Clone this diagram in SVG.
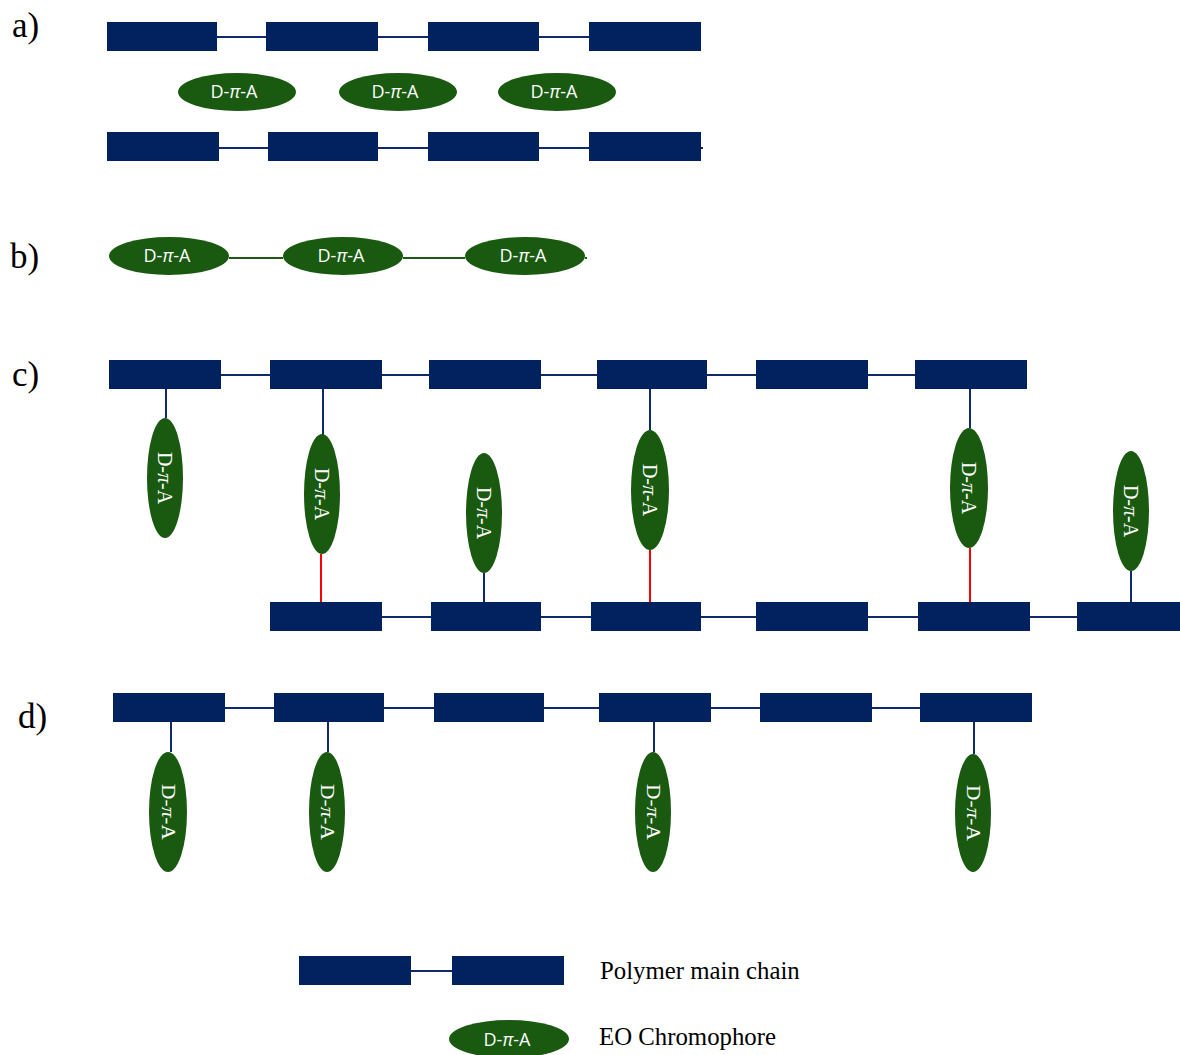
<svg xmlns="http://www.w3.org/2000/svg" width="1180" height="1055" viewBox="0 0 1180 1055">
<style>
.m{fill:#02215f}
.e{fill:#1a5a10}
.ln{stroke:#0e2a6a;stroke-width:2;fill:none}
.gl{stroke:#1a5a10;stroke-width:2;fill:none}
.rd{stroke:#ff0000;stroke-width:2;fill:none}
.lab{font-family:"Liberation Serif",serif;font-size:35px;fill:#000}
.leg{font-family:"Liberation Serif",serif;font-size:24.8px;fill:#000}
.ts{font-family:"Open Sans","DejaVu Sans",sans-serif;font-size:18px;fill:#fff;text-anchor:middle}
.tv{font-family:"Liberation Serif",serif;font-size:20px;fill:#fff;text-anchor:middle}
.tn{font-family:"Liberation Serif",serif;font-size:19px;fill:#fff;text-anchor:middle}
</style>
<rect width="1180" height="1055" fill="#fff"/>

<g id="connectors">
  <!-- a -->
  <path class="ln" d="M217 37H266M378 37H428M539 37H589"/>
  <path class="ln" d="M219 148H268M378 148H428M539 148H703"/>
  <!-- b -->
  <path class="gl" d="M229 258H283M403 258H465M585 258H587"/>
  <!-- c -->
  <path class="ln" d="M221 375H270M382 375H429M541 375H597M707 375H756M868 375H915"/>
  <path class="ln" d="M382 617H431M541 617H591M701 617H756M868 617H918M1030 617H1077"/>
  <path class="ln" d="M166 389V418M323 389V435M650 389V430M970 389V428M484 573V602M1131 571V602"/>
  <path class="rd" d="M321 554V602M650 550V602M970 548V602"/>
  <!-- d -->
  <path class="ln" d="M225 708H274M384 708H434M544 708H599M711 708H760M872 708H920"/>
  <path class="ln" d="M171 722V752M328 722V752M654 722V752M974 722V754"/>
  <!-- legend -->
  <path class="ln" d="M411 971H452"/>
</g>

<g id="labels">
  <text class="lab" x="12" y="37">a)</text>
  <text class="lab" x="10" y="268">b)</text>
  <text class="lab" x="12" y="386">c)</text>
  <text class="lab" x="18" y="728">d)</text>
</g>

<g id="a-chain-top">
  <rect class="m" x="107" y="22" width="110" height="29"/>
  <rect class="m" x="266" y="22" width="112" height="29"/>
  <rect class="m" x="428" y="22" width="111" height="29"/>
  <rect class="m" x="589" y="22" width="112" height="29"/>
</g>
<g id="a-chromophores">
  <ellipse class="e" cx="237" cy="92" rx="59" ry="19"/><text class="ts" x="234" y="98">D-<tspan font-style="italic">π</tspan>-A</text>
  <ellipse class="e" cx="398" cy="92" rx="59" ry="19"/><text class="ts" x="395" y="98">D-<tspan font-style="italic">π</tspan>-A</text>
  <ellipse class="e" cx="557" cy="92" rx="59" ry="19"/><text class="ts" x="554" y="98">D-<tspan font-style="italic">π</tspan>-A</text>
</g>
<g id="a-chain-bottom">
  <rect class="m" x="107" y="132" width="112" height="29"/>
  <rect class="m" x="268" y="132" width="110" height="29"/>
  <rect class="m" x="428" y="132" width="111" height="29"/>
  <rect class="m" x="589" y="132" width="112" height="29"/>
</g>

<g id="b-chain">
  <ellipse class="e" cx="169" cy="256" rx="60" ry="19"/><text class="ts" x="167" y="262">D-<tspan font-style="italic">π</tspan>-A</text>
  <ellipse class="e" cx="343" cy="256" rx="60" ry="19"/><text class="ts" x="341" y="262">D-<tspan font-style="italic">π</tspan>-A</text>
  <ellipse class="e" cx="525" cy="256" rx="60" ry="19"/><text class="ts" x="523" y="262">D-<tspan font-style="italic">π</tspan>-A</text>
</g>

<g id="c-chain-top">
  <rect class="m" x="109" y="360" width="112" height="29"/>
  <rect class="m" x="270" y="360" width="112" height="29"/>
  <rect class="m" x="429" y="360" width="112" height="29"/>
  <rect class="m" x="597" y="360" width="110" height="29"/>
  <rect class="m" x="756" y="360" width="112" height="29"/>
  <rect class="m" x="915" y="360" width="112" height="29"/>
</g>
<g id="c-chromophores">
  <ellipse class="e" cx="165" cy="478" rx="18" ry="60"/><text class="tv" transform="translate(165 478) rotate(90)" y="7">D-<tspan font-style="italic">π</tspan>-A</text>
  <ellipse class="e" cx="322" cy="494" rx="18" ry="60"/><text class="tv" transform="translate(322 494) rotate(90)" y="7">D-<tspan font-style="italic">π</tspan>-A</text>
  <ellipse class="e" cx="484" cy="513" rx="18" ry="60"/><text class="tv" transform="translate(484 513) rotate(90)" y="7">D-<tspan font-style="italic">π</tspan>-A</text>
  <ellipse class="e" cx="650" cy="490" rx="19" ry="60"/><text class="tv" transform="translate(650 490) rotate(90)" y="7">D-<tspan font-style="italic">π</tspan>-A</text>
  <ellipse class="e" cx="969" cy="488" rx="19" ry="60"/><text class="tv" transform="translate(969 488) rotate(90)" y="7">D-<tspan font-style="italic">π</tspan>-A</text>
  <ellipse class="e" cx="1131" cy="511" rx="18" ry="60"/><text class="tv" transform="translate(1131 511) rotate(90)" y="7">D-<tspan font-style="italic">π</tspan>-A</text>
</g>
<g id="c-chain-bottom">
  <rect class="m" x="270" y="602" width="112" height="29"/>
  <rect class="m" x="431" y="602" width="110" height="29"/>
  <rect class="m" x="591" y="602" width="110" height="29"/>
  <rect class="m" x="756" y="602" width="112" height="29"/>
  <rect class="m" x="918" y="602" width="112" height="29"/>
  <rect class="m" x="1077" y="602" width="103" height="29"/>
</g>

<g id="d-chain">
  <rect class="m" x="113" y="693" width="112" height="29"/>
  <rect class="m" x="274" y="693" width="110" height="29"/>
  <rect class="m" x="434" y="693" width="110" height="29"/>
  <rect class="m" x="599" y="693" width="112" height="29"/>
  <rect class="m" x="760" y="693" width="112" height="29"/>
  <rect class="m" x="920" y="693" width="112" height="29"/>
</g>
<g id="d-chromophores">
  <ellipse class="e" cx="168" cy="812" rx="19" ry="60"/><text class="tn" transform="translate(168 812) rotate(90)" y="6" textLength="56" lengthAdjust="spacingAndGlyphs">D-<tspan font-style="italic">π</tspan>-A</text>
  <ellipse class="e" cx="327" cy="812" rx="18" ry="60"/><text class="tn" transform="translate(327 812) rotate(90)" y="6" textLength="56" lengthAdjust="spacingAndGlyphs">D-<tspan font-style="italic">π</tspan>-A</text>
  <ellipse class="e" cx="653" cy="812" rx="18" ry="60"/><text class="tn" transform="translate(653 812) rotate(90)" y="6" textLength="56" lengthAdjust="spacingAndGlyphs">D-<tspan font-style="italic">π</tspan>-A</text>
  <ellipse class="e" cx="973" cy="813" rx="18" ry="59"/><text class="tn" transform="translate(973 813) rotate(90)" y="6" textLength="56" lengthAdjust="spacingAndGlyphs">D-<tspan font-style="italic">π</tspan>-A</text>
</g>

<g id="legend-chain">
  <rect class="m" x="299" y="956" width="112" height="29"/>
  <rect class="m" x="452" y="956" width="112" height="29"/>
  <text class="leg" x="600" y="979">Polymer main chain</text>
</g>
<g id="legend-chromophore">
  <ellipse class="e" cx="509" cy="1039" rx="60" ry="19"/><text class="ts" x="507" y="1046">D-<tspan font-style="italic">π</tspan>-A</text>
  <text class="leg" x="599" y="1045">EO Chromophore</text>
</g>
</svg>
